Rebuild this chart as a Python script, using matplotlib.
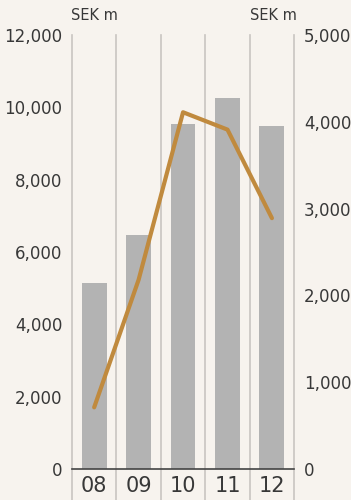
import matplotlib.pyplot as plt

years = ["08", "09", "10", "11", "12"]
bar_values = [5150, 6470, 9540, 10260, 9480]   # left axis, SEK m
line_values = [710, 2180, 4110, 3910, 2890]    # right axis, SEK m

bg = "#f7f3ee"
text_col = "#383838"

fig = plt.figure(figsize=(3.51, 5.0), dpi=100, facecolor=bg)
ax = fig.add_axes([0.205, 0.062, 0.633, 0.868])
ax.set_facecolor(bg)

x = range(len(years))
ax.bar(x, bar_values, width=0.56, color="#b3b3b3", zorder=2)
ax.set_xlim(-0.5, len(years) - 0.5)
ax.set_ylim(0, 12000)
ax.set_yticks(range(0, 12001, 2000))
ax.set_yticklabels([f"{v:,}" for v in range(0, 12001, 2000)])

# vertical separators running down between the year labels
for b in range(len(years) + 1):
    ax.axvline(b - 0.5, ymin=-0.072, ymax=1, color="#c9c5c1", lw=1.2,
               clip_on=False, zorder=1)

for s in ["top", "left", "right"]:
    ax.spines[s].set_visible(False)
ax.spines["bottom"].set_color("#444444")
ax.spines["bottom"].set_linewidth(1.2)
ax.spines["bottom"].set_zorder(3)

ax.set_xticks(list(x))
ax.set_xticklabels(years, fontsize=15, color=text_col)
ax.tick_params(axis="x", length=0, pad=5)
ax.tick_params(axis="y", length=0, pad=7, labelsize=12, labelcolor=text_col)

ax2 = ax.twinx()
ax2.plot(x, line_values, color="#c08a3e", lw=3, solid_capstyle="round", zorder=4)
ax2.set_ylim(0, 5000)
ax2.set_yticks(range(0, 5001, 1000))
ax2.set_yticklabels([f"{v:,}" for v in range(0, 5001, 1000)])
ax2.tick_params(axis="y", length=0, pad=7, labelsize=12, labelcolor=text_col)
for s in ax2.spines.values():
    s.set_visible(False)

fig.text(0.203, 0.968, "SEK m", fontsize=10.5, color=text_col, ha="left", va="center")
fig.text(0.845, 0.968, "SEK m", fontsize=10.5, color=text_col, ha="right", va="center")

fig.savefig("out.png", dpi=100, facecolor=bg)
